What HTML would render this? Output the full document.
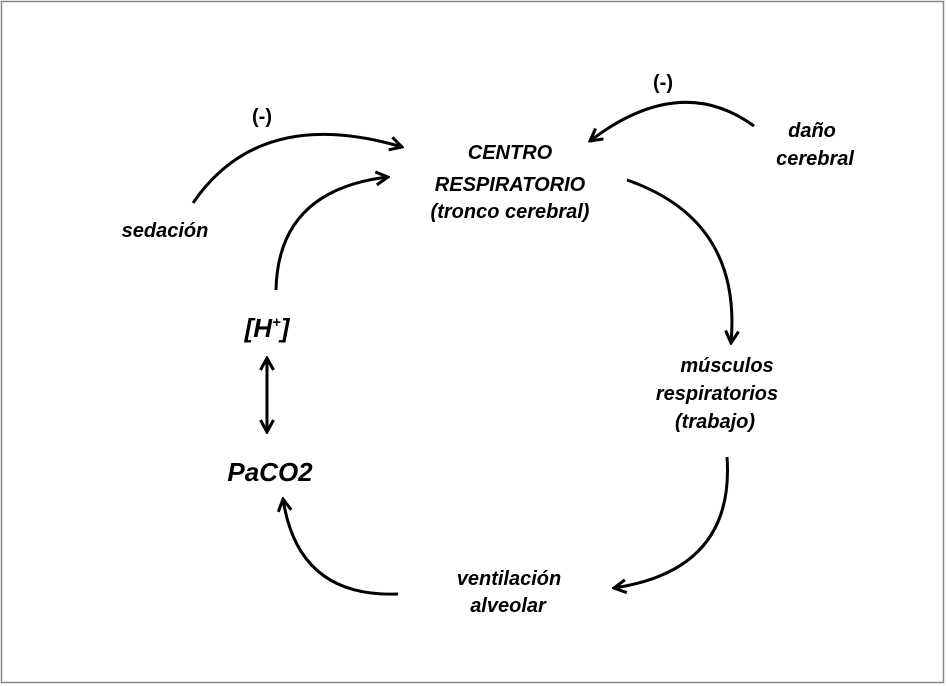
<!DOCTYPE html>
<html><head><style>body{margin:0;background:#fff}svg{display:block}</style></head><body>
<svg width="947" height="686" viewBox="0 0 947 686" xmlns="http://www.w3.org/2000/svg">
<rect x="1.5" y="1.5" width="942" height="681" fill="#fff" stroke="#888" stroke-width="1.5"/>
<defs><marker id="a" viewBox="0 0 16 16" refX="14" refY="8" markerWidth="16" markerHeight="16" markerUnits="userSpaceOnUse" orient="auto-start-reverse"><path d="M2,1.5 L14,8 L2,14.5" fill="none" stroke="#000" stroke-width="3"/></marker></defs>
<g fill="none" stroke="#000" stroke-width="3" marker-end="url(#a)">
<path d="M193,203 Q260,105 402,147"/>
<path d="M276,290 Q278,190 388,177"/>
<path d="M754,126 Q680,72 590,141"/>
<path d="M627,180 Q742,220 731,343"/>
<path d="M727,457 Q735,570 614,588"/>
<path d="M398,594 Q298,598 283,499"/>
<path d="M267,432 L267,358" marker-start="url(#a)"/>
</g>
<g font-family="Liberation Sans, sans-serif" font-weight="bold" font-style="italic" font-size="20" text-anchor="middle" fill="#000">
<text x="510" y="159">CENTRO</text>
<text x="510" y="191">RESPIRATORIO</text>
<text x="510" y="218">(tronco cerebral)</text>
<text x="262" y="123" font-style="normal">(-)</text>
<text x="663" y="89" font-style="normal">(-)</text>
<text x="165" y="237">sedación</text>
<text x="812" y="137">daño</text>
<text x="815" y="165">cerebral</text>
<text x="727" y="372">músculos</text>
<text x="717" y="400">respiratorios</text>
<text x="715" y="428">(trabajo)</text>
<text x="509" y="585">ventilación</text>
<text x="508" y="612">alveolar</text>
<text x="267" y="337" font-size="26">[H<tspan font-size="15" dy="-10">+</tspan><tspan dy="10">]</tspan></text>
<text x="270" y="481" font-size="26">PaCO2</text>
</g>
</svg>
</body></html>
